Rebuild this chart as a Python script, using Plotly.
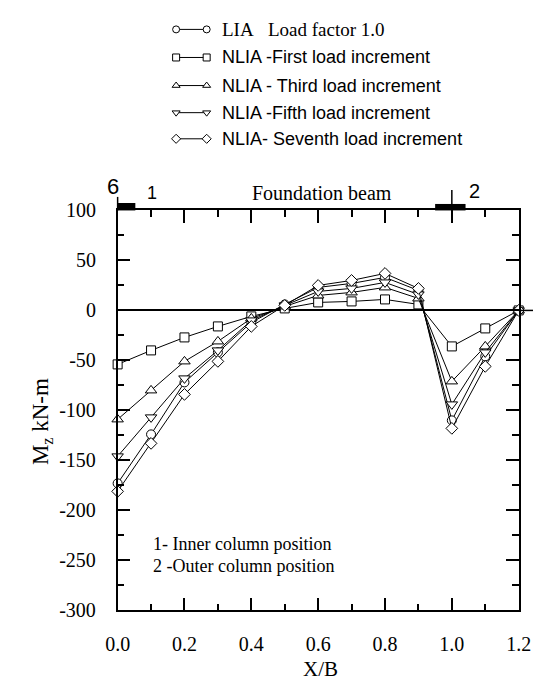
import plotly.graph_objects as go

# ---------------- data ----------------
x_over_b = [0.0, 0.1, 0.2, 0.3, 0.4, 0.5, 0.6, 0.7, 0.8, 0.9, 1.0, 1.1, 1.2]
lia_load_factor_1 = [-173, -124, -72, -42, -12, 6, 23, 27, 33, 20, -110, -46, 0]
nlia_first = [-54, -40, -27, -16, -6, 2, 8, 9, 11, 6, -36, -18, 0]
nlia_third = [-109, -80, -51, -31, -8, 4, 15, 18, 23, 12, -71, -36, 0]
nlia_fifth = [-146, -107, -68, -40, -10, 5, 19, 22, 28, 16, -94, -42, 0]
nlia_seventh = [-181, -133, -84, -51, -16, 5, 25, 30, 37, 22, -118, -56, 0]

series_labels = [
    "LIA&nbsp;&nbsp;&nbsp;Load factor 1.0",
    "NLIA -First load increment",
    "NLIA - Third load increment",
    "NLIA -Fifth load increment",
    "NLIA- Seventh load increment",
]
series_values = [lia_load_factor_1, nlia_first, nlia_third, nlia_fifth, nlia_seventh]

x_tick_vals = [0.0, 0.2, 0.4, 0.6, 0.8, 1.0, 1.2]
x_tick_text = ["0.0", "0.2", "0.4", "0.6", "0.8", "1.0", "1.2"]
y_tick_vals = [100, 50, 0, -50, -100, -150, -200, -250, -300]
y_tick_text = ["100", "50", "0", "-50", "-100", "-150", "-200", "-250", "-300"]

# ---------------- styling ----------------
W, H = 546, 692
PX_L, PX_R, PY_T, PY_B = 110.7, 531.0, 206.0, 619.0
X_MIN, X_MAX, Y_MIN, Y_MAX = 0.0, 1.2, -300.0, 100.0
SERIF = "Liberation Serif"
SANS = "Liberation Sans"

symbols = ["circle", "square", "triangle-up", "triangle-down", "diamond"]
sizes = [9, 9, 10, 10, 9]
label_fonts = [SERIF, SANS, SANS, SANS, SANS]


def px(v):
    return PX_L + (v - X_MIN) * (PX_R - PX_L) / (X_MAX - X_MIN)


def py(v):
    return PY_T + (Y_MAX - v) * (PY_B - PY_T) / (Y_MAX - Y_MIN)


fig = go.Figure()

for vals, sym, sz in zip(series_values, symbols, sizes):
    fig.add_trace(go.Scatter(
        x=x_over_b, y=vals, mode="lines+markers",
        line=dict(color="black", width=1),
        marker=dict(symbol=sym, size=sz, color="white",
                    line=dict(color="black", width=1)),
        cliponaxis=False, showlegend=False,
        xaxis="x", yaxis="y",
    ))

# ---- hand-made legend in pixel space (x2/y2 overlay covering the page) ----
legend_rows_y = [19, 48, 77, 105, 132]
annotations = []
for lab, sym, fnt, ry in zip(series_labels, symbols, label_fonts, legend_rows_y):
    fig.add_trace(go.Scatter(
        x=[172, 204], y=[ry, ry], mode="lines+markers",
        line=dict(color="black", width=1),
        marker=dict(symbol=sym, size=7, color="white",
                    line=dict(color="black", width=1)),
        cliponaxis=False, showlegend=False, hoverinfo="skip",
        xaxis="x2", yaxis="y2",
    ))
    annotations.append(dict(
        x=218, y=ry, xref="x2", yref="y2", text=lab, showarrow=False,
        xanchor="left", yanchor="middle",
        font=dict(family=fnt, size=19 if fnt == SERIF else 18, color="black"),
    ))

# ---- texts ----
def ann(x, y, text, family=SERIF, size=20, xanchor="center", yanchor="middle", angle=0):
    annotations.append(dict(
        x=x, y=y, xref="x2", yref="y2", text=text, showarrow=False,
        xanchor=xanchor, yanchor=yanchor, textangle=angle,
        font=dict(family=family, size=size, color="black"),
    ))

ann(325, 188, "Foundation beam", size=20)
ann(106, 181, "6", family=SANS, size=22)
ann(147, 188, "1", family=SANS, size=18)
ann(485, 186, "2", family=SANS, size=20)
ann(146, 551, "1- Inner column position", xanchor="left", size=18)
ann(146, 573, "2 -Outer column position", xanchor="left", size=18)
ann(323, 680, "X/B", size=21)
ann(31, 424, "M<sub>z</sub> kN-m", size=23, angle=-90)

# ---- decorations (pixel space) ----
shapes = [
    dict(type="rect", xref="x2", yref="y2", x0=px(0.0), x1=px(0.053),
         y0=198.3, y1=py(100), fillcolor="black", line=dict(width=0)),
    dict(type="line", xref="x2", yref="y2", x0=px(0.0), x1=px(0.0),
         y0=192, y1=py(100), line=dict(color="black", width=1.5)),
    dict(type="rect", xref="x2", yref="y2", x0=px(0.95), x1=px(1.041),
         y0=199.3, y1=py(100), fillcolor="black", line=dict(width=0)),
    dict(type="line", xref="x2", yref="y2", x0=px(1.0), x1=px(1.0),
         y0=185, y1=219, line=dict(color="black", width=1.5)),
    dict(type="line", xref="x2", yref="y2", x0=px(1.2), x1=546,
         y0=py(0), y1=py(0), line=dict(color="black", width=1.5)),
]

axis_common = dict(
    showline=True, linecolor="black", linewidth=1.5, mirror="ticks",
    ticks="inside", tickcolor="black", tickwidth=1.5, ticklen=13,
    showgrid=False, tickfont=dict(family=SERIF, size=20, color="black"),
)

fig.update_layout(
    width=W, height=H,
    margin=dict(l=0, r=0, t=0, b=0),
    paper_bgcolor="white", plot_bgcolor="rgba(0,0,0,0)",
    showlegend=False,
    xaxis=dict(
        domain=[PX_L / W, PX_R / W], range=[X_MIN, X_MAX],
        tickvals=x_tick_vals, ticktext=x_tick_text,
        minor=dict(dtick=0.1, tick0=0, ticks="inside", ticklen=7,
                   tickwidth=1.5, tickcolor="black", showgrid=False),
        zeroline=False, anchor="y", ticklabelstandoff=15,
        **axis_common,
    ),
    yaxis=dict(
        domain=[1 - PY_B / H, 1 - PY_T / H], range=[Y_MIN, Y_MAX],
        tickvals=y_tick_vals, ticktext=y_tick_text,
        minor=dict(dtick=25, tick0=0, ticks="inside", ticklen=7,
                   tickwidth=1.5, tickcolor="black", showgrid=False),
        zeroline=True, zerolinecolor="black", zerolinewidth=1.5,
        anchor="x", ticklabelstandoff=16,
        **axis_common,
    ),
    xaxis2=dict(domain=[0, 1], range=[0, W], visible=False, anchor="y2",
                fixedrange=True),
    yaxis2=dict(domain=[0, 1], range=[H, 0], visible=False, anchor="x2",
                fixedrange=True),
    annotations=annotations,
    shapes=shapes,
)

fig.write_html("out.html")
